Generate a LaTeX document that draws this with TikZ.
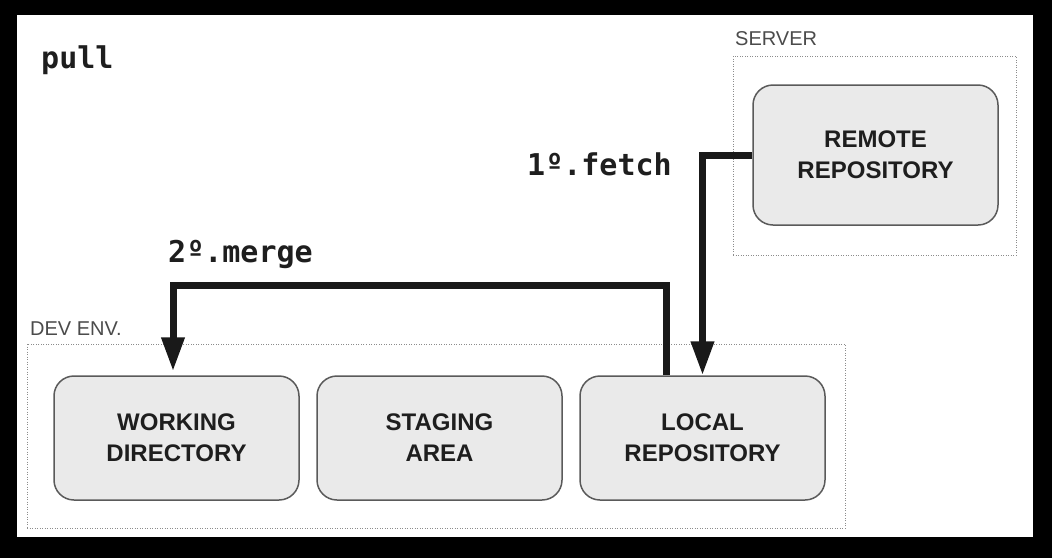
\documentclass[tikz,border=0pt]{standalone}
\usepackage{fontspec}
\setmainfont{Liberation Sans}
\newfontfamily\codefont{DejaVu Sans Mono}
\usetikzlibrary{arrows.meta}
\definecolor{boxfill}{HTML}{EAEAEA}
\definecolor{boxline}{HTML}{5A5A5A}
\definecolor{zoneline}{HTML}{8C8C8C}
\definecolor{inktext}{HTML}{1E1E1E}

\begin{document}
\begin{tikzpicture}[
	x=1pt, y=-1pt,
	block/.style={rectangle, rounded corners=20pt, draw=boxline, fill=boxfill, line width=1.5pt, minimum width=245pt, minimum height=124pt, align=center, text=inktext, font=\fontsize{24}{31}\selectfont\bfseries},
	zone/.style={rectangle, draw=zoneline, line width=1pt, dash pattern=on 1pt off 1.5pt, inner sep=0pt},
	zonelabel/.style={anchor=base west, inner sep=0pt, text=inktext!80, font=\fontsize{20}{24}\selectfont},
	cmd/.style={anchor=base west, inner sep=0pt, text=inktext, font=\codefont\fontsize{30}{36}\selectfont\bfseries},
	flow/.style={draw=black!90, line width=7pt, -{Triangle[length=34pt,width=22pt]}}
	]
	% Frame
	\useasboundingbox (0,0) rectangle (1052,558);
	\fill[black] (0,0) rectangle (1052,558);
	\fill[white] (17,15) rectangle (1033,537);
	
	% Title
	\node[cmd] (title) at (41,68) {pull};
	
	% Server side
	\node[zone, minimum width=283pt, minimum height=199pt] (server) at (874.5,155.5) {};
	\node[zonelabel] (serverlabel) at (735,45) {SERVER};
	\node[block, minimum height=140pt] (remote) at (875.5,155) {REMOTE\\REPOSITORY};
	
	% Developer side
	\node[zone, minimum width=818pt, minimum height=184pt] (dev) at (436,436) {};
	\node[zonelabel] (devlabel) at (30,335) {DEV ENV.};
	\node[block] (working) at (176.5,438) {WORKING\\DIRECTORY};
	\node[block] (staging) at (439.5,438) {STAGING\\AREA};
	\node[block] (local) at (702.5,438) {LOCAL\\REPOSITORY};
	
	% Steps
	\draw[flow] (remote.west) -| (local.north);
	\draw[flow] ([xshift=-36.5pt]local.north) -- ++(0,-90) -| ([xshift=-3.5pt, yshift=4pt]working.north);
	\node[cmd] (fetch) at (527,175) {1º.fetch};
	\node[cmd] (merge) at (168,262) {2º.merge};
\end{tikzpicture}
\end{document}
